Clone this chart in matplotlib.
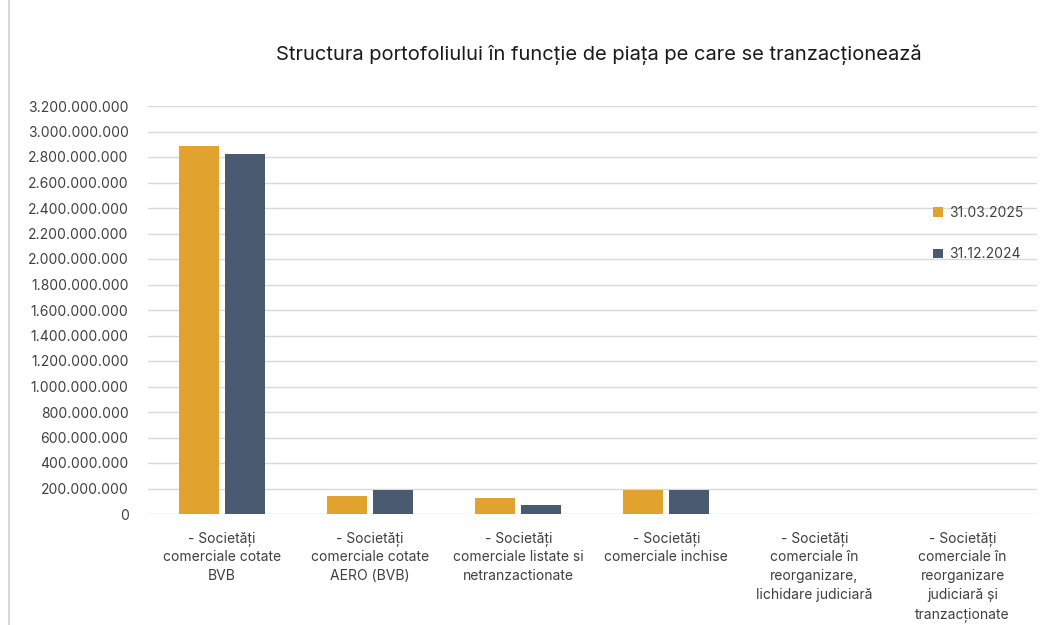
import matplotlib
matplotlib.use('Agg')
import matplotlib.pyplot as plt
import matplotlib.ticker as mticker
from matplotlib.patches import Patch
from matplotlib.lines import Line2D
import numpy as np

plt.rcParams['font.family'] = ['Inter', 'DejaVu Sans']

categories = ['- Societăți\ncomerciale cotate\nBVB',
              '- Societăți\ncomerciale cotate\nAERO (BVB)',
              '- Societăți\ncomerciale listate si\nnetranzactionate',
              '- Societăți\ncomerciale inchise',
              '- Societăți\ncomerciale în\nreorganizare,\nlichidare judiciară',
              '- Societăți\ncomerciale în\nreorganizare\njudiciară și\ntranzacționate']
val_2025 = [2886000000, 143000000, 123000000, 186000000, 0, 0]
val_2024 = [2824000000, 190000000, 70000000, 186000000, 0, 0]
labels = ['31.03.2025', '31.12.2024']
colors = ['#E2A32E', '#4A5A70']

fig = plt.figure(figsize=(10.61, 6.25), dpi=100)
ax = fig.add_axes([0.1395, 0.1776, 0.8375, 0.6528])

x = np.arange(len(categories))
w = 0.27
ax.bar(x - 0.155, val_2025, w, color=colors[0], zorder=3)
ax.bar(x + 0.155, val_2024, w, color=colors[1], zorder=3)

ax.set_xlim(-0.5, len(categories) - 0.5)
ax.set_ylim(0, 3200000000)
ax.set_yticks(np.arange(0, 3200000001, 200000000))
ax.yaxis.set_major_formatter(mticker.FuncFormatter(lambda v, p: '{:,.0f}'.format(v).replace(',', '.')))
ax.grid(axis='y', color='#d9d9d9', linewidth=1, zorder=0)
for s in ax.spines.values():
    s.set_visible(False)
ax.tick_params(axis='both', length=0, labelsize=10, labelcolor='#404040')
ax.tick_params(axis='y', pad=14)
ax.tick_params(axis='x', pad=12)
ax.set_xticks(x)
ax.set_xticklabels(categories, linespacing=1.45)

fig.text(0.5646, 0.912, 'Structura portofoliului în funcție de piața pe care se tranzacționează',
         ha='center', va='center', fontsize=14.5, color='#1a1a1a')

handles = [Patch(facecolor=c, edgecolor='none') for c in colors]
fig.legend(handles, labels, loc='upper left', bbox_to_anchor=(0.868, 0.691),
           frameon=False, fontsize=10, labelspacing=2.0, handlelength=0.7,
           handleheight=0.7, handletextpad=0.4, labelcolor='#404040')

# left border of the chart box
fig.add_artist(Line2D([0.0085, 0.0085], [0, 1], color='#d8d8d8', linewidth=1.5))

fig.savefig('out.png', dpi=100)
